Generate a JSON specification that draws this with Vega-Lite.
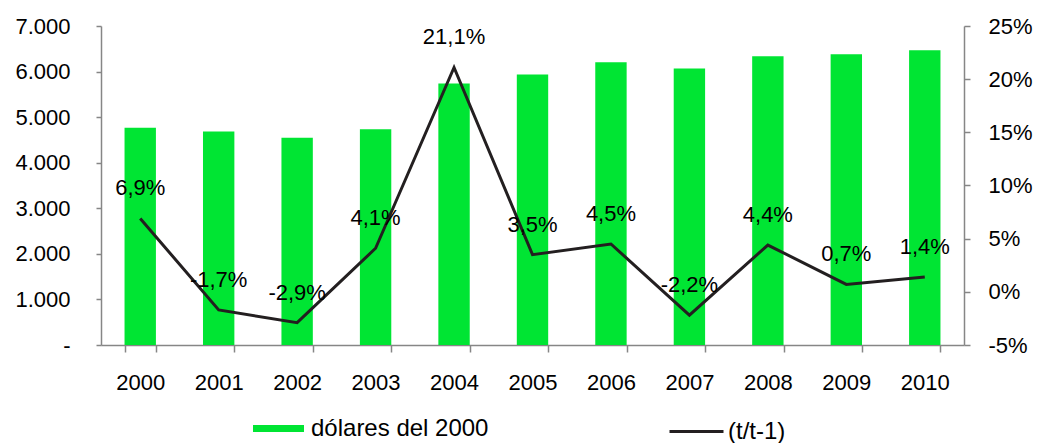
{
  "$schema": "https://vega.github.io/schema/vega-lite/v6.json",
  "width": 863,
  "height": 319,
  "autosize": {"type": "none"},
  "padding": {"left": 101, "top": 26, "right": 73, "bottom": 98},
  "config": {
    "view": {"stroke": null},
    "font": "Liberation Sans",
    "locale": {"number": {"decimal": ",", "thousands": ".", "grouping": [3], "currency": ["", " €"], "minus": "-"}},
    "axis": {
      "labelFont": "Liberation Sans",
      "labelFontSize": 22,
      "labelColor": "#000000",
      "domainColor": "#868686",
      "tickColor": "#868686",
      "domainWidth": 1.5,
      "tickWidth": 1.5,
      "grid": false,
      "title": null
    },
    "legend": {
      "labelFont": "Liberation Sans",
      "labelFontSize": 24,
      "labelColor": "#000000",
      "labelLimit": 0,
      "title": null
    }
  },
  "data": {
    "values": [
      {"year": "2000", "usd": 4765, "g": 0.069},
      {"year": "2001", "usd": 4685, "g": -0.017},
      {"year": "2002", "usd": 4550, "g": -0.029},
      {"year": "2003", "usd": 4737, "g": 0.041},
      {"year": "2004", "usd": 5736, "g": 0.211},
      {"year": "2005", "usd": 5937, "g": 0.035},
      {"year": "2006", "usd": 6204, "g": 0.045},
      {"year": "2007", "usd": 6067, "g": -0.022},
      {"year": "2008", "usd": 6334, "g": 0.044},
      {"year": "2009", "usd": 6378, "g": 0.007},
      {"year": "2010", "usd": 6468, "g": 0.014}
    ]
  },
  "encoding": {
    "x": {
      "field": "year",
      "type": "ordinal",
      "scale": {"paddingInner": 0.6, "paddingOuter": 0.3},
      "axis": {"labelAngle": 0, "tickBand": "extent", "tickSize": 7, "labelPadding": 20, "title": null}
    }
  },
  "layer": [
    {
      "mark": {"type": "bar", "color": "#00E533"},
      "encoding": {
        "y": {
          "field": "usd",
          "type": "quantitative",
          "scale": {"domain": [0, 7000]},
          "axis": {
            "values": [0, 1000, 2000, 3000, 4000, 5000, 6000, 7000],
            "labelExpr": "datum.value == 0 ? '-' : replace(format(datum.value, ',.0f'), ',', '.')",
            "tickSize": 5,
            "labelPadding": 26,
            "title": null
          }
        },
        "color": {
          "datum": "dólares del 2000",
          "type": "nominal",
          "scale": {"range": ["#00E533"]},
          "legend": {
            "orient": "none",
            "legendX": 152,
            "legendY": 377,
            "symbolType": "M-1,-0.137H1V0.137H-1Z",
            "symbolSize": 2601,
            "symbolStrokeWidth": 0,
            "symbolOpacity": 1,
            "labelOffset": 7
          }
        }
      }
    },
    {
      "encoding": {
        "y": {
          "field": "g",
          "type": "quantitative",
          "scale": {"domain": [-0.05, 0.25]},
          "axis": {
            "orient": "right",
            "values": [-0.05, 0, 0.05, 0.1, 0.15, 0.2, 0.25],
            "labelExpr": "replace(format(datum.value, '.0%'), '\u2212', '-')",
            "tickSize": 6,
            "labelPadding": 18,
            "title": null
          }
        }
      },
      "layer": [
        {
          "mark": {"type": "line", "strokeWidth": 3, "color": "#231F20"},
          "encoding": {
            "stroke": {
              "datum": "(t/t-1)",
              "type": "nominal",
              "scale": {"range": ["#231F20"]},
              "legend": {
                "orient": "none",
                "legendX": 567,
                "legendY": 377,
                "symbolType": "stroke",
                "symbolSize": 2916,
                "symbolStrokeWidth": 3,
                "labelOffset": 3
              }
            }
          }
        },
        {
          "transform": [
            {"calculate": "replace(replace(format(datum.g, '.1%'), '.', ','), '\u2212', '-')", "as": "lab"}
          ],
          "mark": {"type": "text", "dy": -30, "fontSize": 22, "font": "Liberation Sans", "color": "#000000", "baseline": "middle"},
          "encoding": {"text": {"field": "lab", "type": "nominal"}}
        }
      ]
    }
  ],
  "resolve": {"scale": {"y": "independent", "color": "independent"}}
}
